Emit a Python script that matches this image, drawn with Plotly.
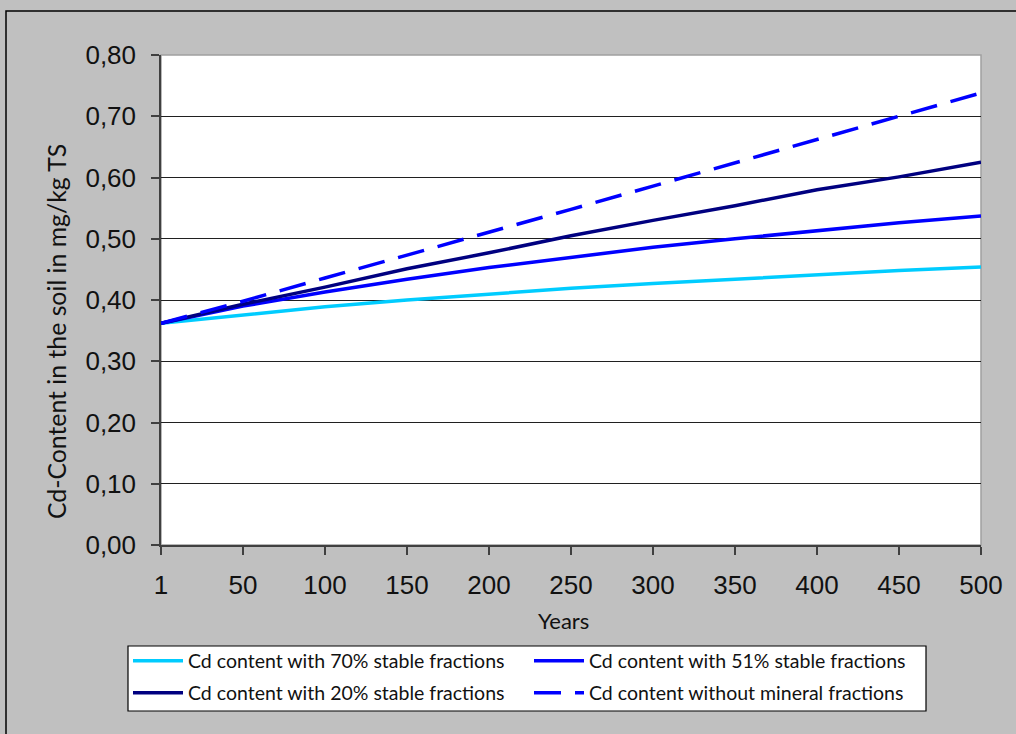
import plotly.graph_objects as go

years = ["1", "50", "100", "150", "200", "250", "300", "350", "400", "450", "500"]
cd_70 = [0.362, 0.376, 0.389, 0.400, 0.410, 0.419, 0.427, 0.434, 0.442, 0.448, 0.454]
cd_51 = [0.362, 0.390, 0.413, 0.434, 0.453, 0.470, 0.486, 0.500, 0.513, 0.526, 0.537]
cd_20 = [0.362, 0.393, 0.421, 0.451, 0.477, 0.505, 0.530, 0.554, 0.580, 0.601, 0.625]
cd_nomin = [0.362, 0.398, 0.436, 0.473, 0.511, 0.548, 0.586, 0.624, 0.662, 0.700, 0.738]

names = [
    "Cd content with 70% stable fractions",
    "Cd content with 51% stable fractions",
    "Cd content with 20% stable fractions",
    "Cd content without mineral fractions",
]
x_title = "Years"
y_title = "Cd-Content in the soil in mg/kg TS"

fig = go.Figure()
series = [
    (cd_70, names[0], "#00CCFF", "solid", "legend"),
    (cd_51, names[1], "#0000FF", "solid", "legend"),
    (cd_20, names[2], "#000080", "solid", "legend2"),
    (cd_nomin, names[3], "#0000FF", "27px,14px", "legend2"),
]
for vals, nm, col, dash, lg in series:
    fig.add_trace(go.Scatter(x=years, y=vals, name=nm, mode="lines", legend=lg,
                             line=dict(color=col, width=3.5, dash=dash)))

L, R, T, B = 161, 35, 55, 189
PW, PH = 1016 - L - R, 734 - T - B


def px_x(p):
    return (p - L) / PW


def px_y(p):
    return (545 - p) / PH


tickfont = dict(family="Liberation Sans, Arial", size=26, color="#111111")
leg_common = dict(
    orientation="h", x=px_x(128), xanchor="left", yanchor="middle",
    bgcolor="rgba(0,0,0,0)", borderwidth=0,
    font=dict(family="Lato", size=19.5, color="#111111"),
    entrywidth=336, itemwidth=50, traceorder="normal",
)
fig.update_layout(
    width=1016, height=734,
    margin=dict(l=L, r=R, t=T, b=B, autoexpand=False),
    paper_bgcolor="#c0c0c0",
    plot_bgcolor="#ffffff",
    separators=",.",
    font=dict(family="Liberation Sans, Arial", color="#000000"),
    showlegend=True,
    legend=dict(leg_common, y=px_y(661)),
    legend2=dict(leg_common, y=px_y(693)),
    xaxis=dict(
        type="category", range=[0, 10],
        showgrid=False, showline=True, linecolor="#404040", linewidth=1.5,
        ticks="outside", ticklen=8, tickcolor="#404040", tickwidth=1.5,
        tickfont=tickfont, ticklabelstandoff=8,
        zeroline=False,
    ),
    yaxis=dict(
        range=[0, 0.8], dtick=0.1, tick0=0, tickformat=".2f",
        showgrid=True, gridcolor="#202020", gridwidth=1,
        showline=True, linecolor="#404040", linewidth=1.5,
        ticks="outside", ticklen=8, tickcolor="#404040", tickwidth=1.5,
        tickfont=tickfont, ticklabelstandoff=10,
        zeroline=False,
    ),
    annotations=[
        dict(text=y_title, xref="paper", yref="paper",
             x=px_x(56), y=px_y(332), xanchor="center", yanchor="middle",
             textangle=-90, showarrow=False,
             font=dict(family="Lato", size=24.8, color="#111111")),
        dict(text=x_title, xref="paper", yref="paper",
             x=px_x(563), y=px_y(620), xanchor="center", yanchor="middle",
             showarrow=False,
             font=dict(family="Lato", size=22, color="#111111")),
    ],
    shapes=[
        dict(type="rect", xref="paper", yref="paper", x0=0, x1=1, y0=0, y1=1,
             line=dict(color="#a0a0a0", width=1.5), layer="below"),
        dict(type="rect", xref="paper", yref="paper",
             x0=px_x(6), x1=1.1, y0=-0.45, y1=px_y(11),
             line=dict(color="#000000", width=1.5), layer="below"),
        dict(type="rect", xref="paper", yref="paper",
             x0=px_x(128), x1=px_x(926), y0=px_y(711), y1=px_y(646),
             fillcolor="#ffffff", line=dict(color="#000000", width=1.2), layer="below"),
    ],
)

fig.write_html("out.html")
